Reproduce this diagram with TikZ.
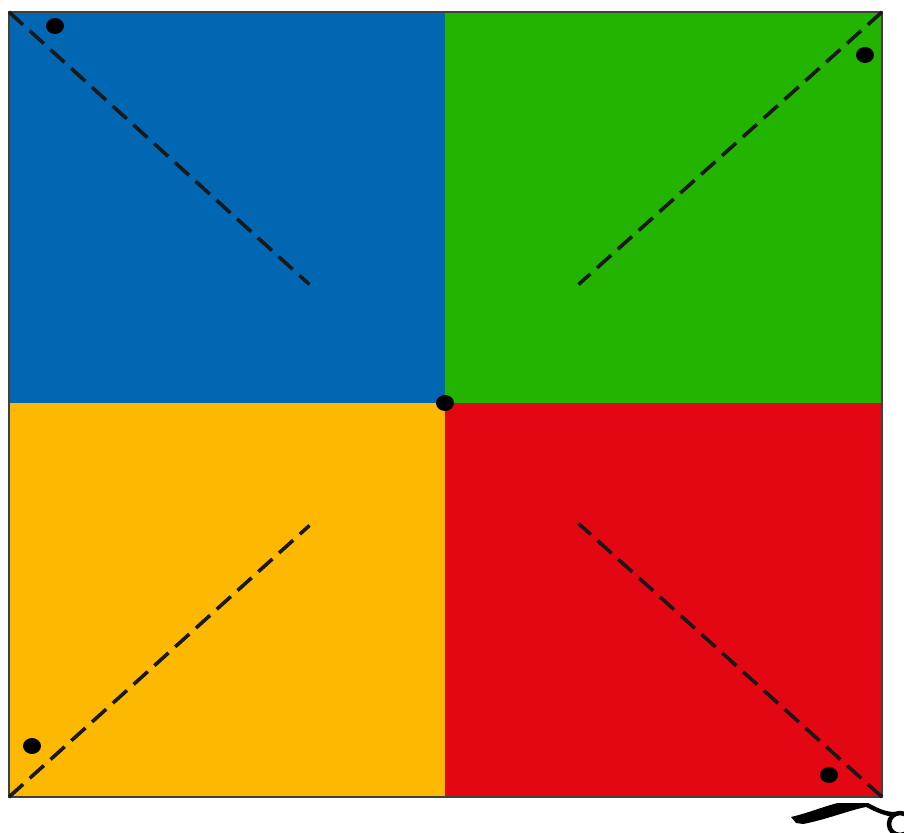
\documentclass[tikz,border=0pt]{standalone}
\usetikzlibrary{positioning, calc, shapes.geometric}
\definecolor{quadblue}{HTML}{0267B3}
\definecolor{quadgreen}{HTML}{22B401}
\definecolor{quadyellow}{HTML}{FDB801}
\definecolor{quadred}{HTML}{E30713}
\tikzset{
    quadbox/.style={inner sep=0pt, outer sep=0pt, anchor=north west},
    foldline/.style={line width=3.6pt, dash pattern=on 19pt off 9pt, draw=black!90},
    holedot/.style={draw=none, fill=black, ellipse, inner sep=0pt, minimum width=18pt, minimum height=16pt},
    place/.style={inner sep=0pt, outer sep=0pt}
}

\begin{document}
\begin{tikzpicture}[x=1pt, y=1pt, node distance=0pt]
  \useasboundingbox (0,0) rectangle (904,832);
  \node(Blue)[quadbox, fill=quadblue, minimum width=436pt, minimum height=391pt] at (9,820){};
  \node(Green)[quadbox, fill=quadgreen, minimum width=437pt, minimum height=391pt, right=of Blue.north east, anchor=north west]{};
  \node(Yellow)[quadbox, fill=quadyellow, minimum width=436pt, minimum height=394pt, below=of Blue.south west, anchor=north west]{};
  \node(Red)[quadbox, fill=quadred, minimum width=437pt, minimum height=394pt, right=of Yellow.north east, anchor=north west]{};
  \draw[line width=1.3pt, draw=black!75](Blue.north west) rectangle (Red.south east);
  \node(BlueEnd)[place] at (310,547){};
  \node(GreenEnd)[place] at (578,547){};
  \node(YellowEnd)[place] at (310,307){};
  \node(RedEnd)[place] at (578,309){};
  \draw[foldline](Blue.north west)--(BlueEnd);
  \draw[foldline](Green.north east)--(GreenEnd);
  \draw[foldline](Yellow.south west)--(YellowEnd);
  \draw[foldline](Red.south east)--(RedEnd);
  \node(BlueDot)[holedot] at (55,806){};
  \node(GreenDot)[holedot] at (865,777){};
  \node(YellowDot)[holedot] at (32,86){};
  \node(RedDot)[holedot] at (829,57){};
  \node(CentreDot)[holedot] at (445,429){};
  \begin{scope}
    \clip (0,0) rectangle (904,832);
    \fill[black](791,15)..controls (805,18) and (825,26) ..(838,29)--(868,29)
      ..controls (876,25) and (884,20) ..(895,20)--(895,15)
      ..controls (884,16) and (876,20) ..(866,25)
      ..controls (850,22) and (825,12) ..(803,8)--(796,9)--cycle;
    \draw[line width=4.5pt](900,8) circle (11pt);
  \end{scope}
\end{tikzpicture}
\end{document}
